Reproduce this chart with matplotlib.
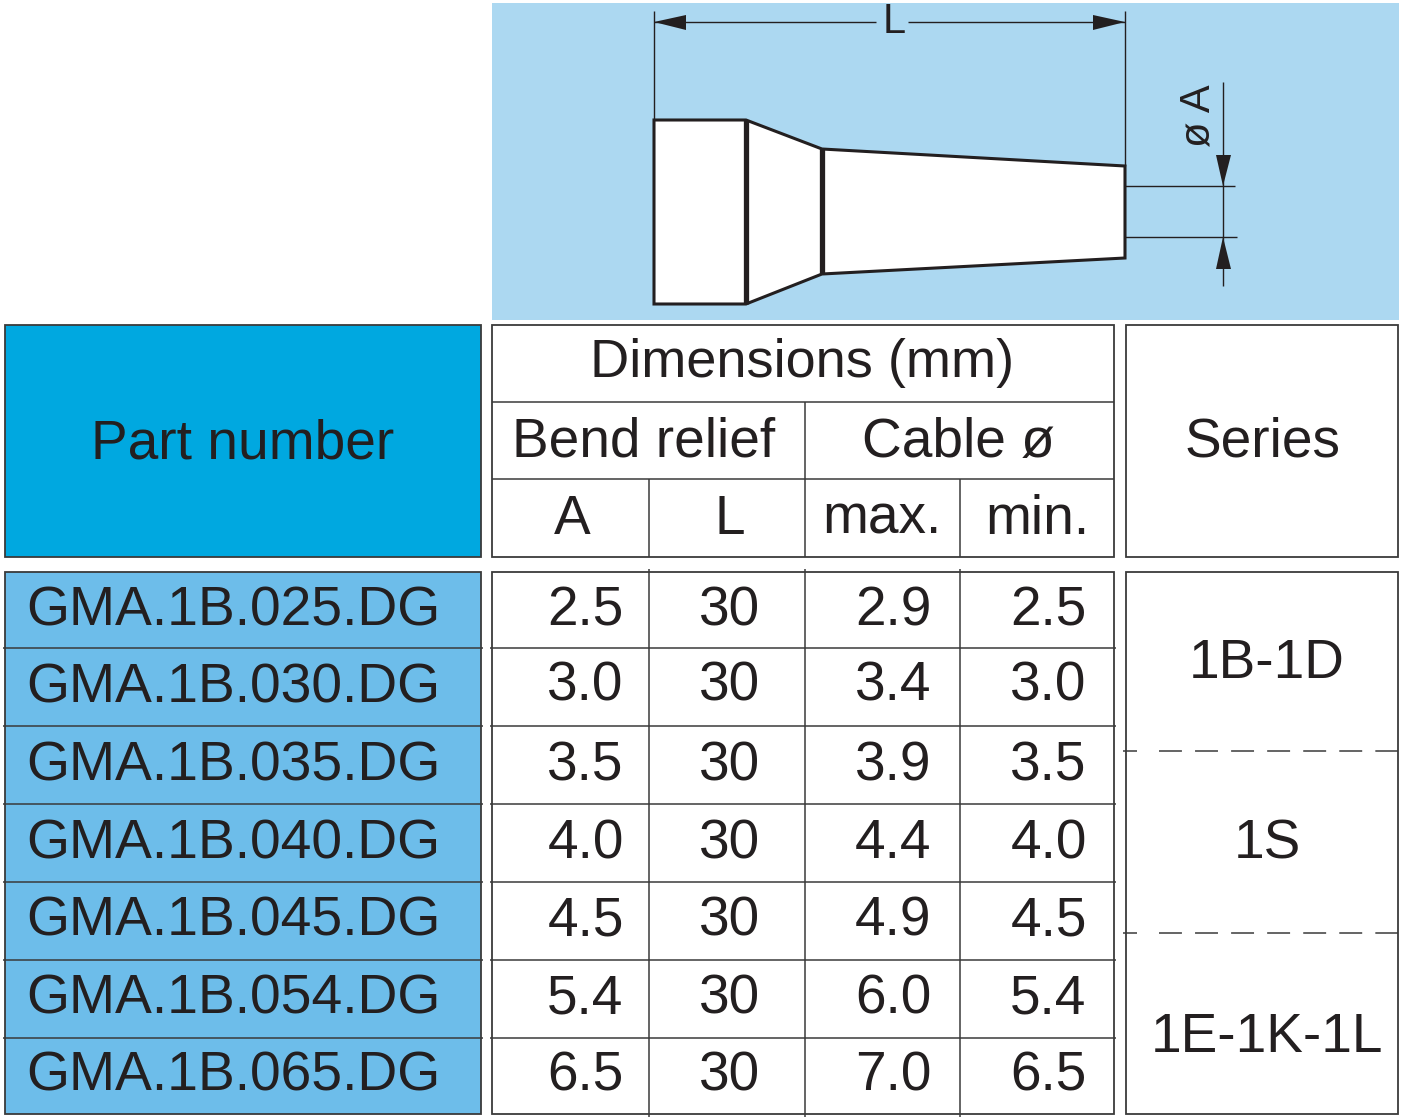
import matplotlib
matplotlib.use("Agg")
import matplotlib.pyplot as plt
from matplotlib.patches import Rectangle, Polygon

part_numbers = ["GMA.1B.025.DG", "GMA.1B.030.DG", "GMA.1B.035.DG", "GMA.1B.040.DG",
                "GMA.1B.045.DG", "GMA.1B.054.DG", "GMA.1B.065.DG"]
col_a = ["2.5", "3.0", "3.5", "4.0", "4.5", "5.4", "6.5"]
col_l = ["30"] * 7
col_max = ["2.9", "3.4", "3.9", "4.4", "4.9", "6.0", "7.0"]
col_min = ["2.5", "3.0", "3.5", "4.0", "4.5", "5.4", "6.5"]
series_labels = ["1B-1D", "1S", "1E-1K-1L"]
series_y = [660, 840, 1033]
label_y = [607, 684, 762, 840, 917, 995, 1072]
value_y = [607, 682, 762, 840, 917, 995, 1072]
row_lines = [648, 726, 804, 882, 960, 1038]

W, H = 1406, 1118
fig = plt.figure(figsize=(W / 100, H / 100), dpi=100)
ax = fig.add_axes([0, 0, 1, 1])
ax.set_xlim(0, W)
ax.set_ylim(H, 0)
ax.axis("off")
FONT = "Liberation Sans"
TC = "#231f20"
LC = "#3a3a3a"
FS = 39.6


def rect(x0, y0, x1, y1, fc="none", ec=LC, lw=1.3, z=1):
    ax.add_patch(Rectangle((x0, y0), x1 - x0, y1 - y0, fc=fc, ec=ec, lw=lw, zorder=z))


def line(xs, ys, lw=1.1, color=LC):
    ax.plot(xs, ys, color=color, lw=lw, solid_capstyle="butt", zorder=3)


def txt(x, y, s, ha="center", fs=FS, dy=4.5, **kw):
    ax.text(x, y + dy, s, ha=ha, va="center", fontsize=fs, family=FONT, color=TC, **kw)


# Drawing panel
rect(492, 3, 1399, 320, fc="#acd8f1", ec="none", z=0)
ax.add_patch(Polygon([(654, 120), (746, 120), (822, 149), (1125, 166), (1125, 258),
                      (822, 274), (746, 304), (654, 304)], closed=True,
                     fc="white", ec=TC, lw=2.2, zorder=2))
line([746, 746], [120, 304], lw=3.8, color=TC)
line([822, 822], [149, 274], lw=3.8, color=TC)
line([654, 654], [11, 120], lw=1, color=TC)
line([1125, 1125], [11, 166], lw=1, color=TC)
line([654, 876], [22, 22], lw=1, color=TC)
line([908, 1125], [22, 22], lw=1, color=TC)
line([1125, 1235], [186, 186], lw=1, color=TC)
line([1125, 1237], [237, 237], lw=1, color=TC)
line([1223, 1223], [82, 286], lw=1, color=TC)
ax.add_patch(Polygon([(654, 22), (686, 15), (686, 30)], fc=TC, ec="none", zorder=3))
ax.add_patch(Polygon([(1125, 22), (1093, 15), (1093, 30)], fc=TC, ec="none", zorder=3))
ax.add_patch(Polygon([(1223, 186), (1216, 155), (1231, 155)], fc=TC, ec="none", zorder=3))
ax.add_patch(Polygon([(1223, 237), (1216, 269), (1231, 269)], fc=TC, ec="none", zorder=3))
txt(894, 22, "L", fs=30, dy=0)
txt(1199, 116, "ø A", fs=30, dy=0, rotation=90)

# Header
rect(5, 325, 481, 557, fc="#00a8e0")
rect(492, 325, 1114, 557, fc="white")
rect(1126, 325, 1398, 557, fc="white")
line([492, 1114], [402, 402])
line([492, 1114], [479, 479])
line([805, 805], [402, 557])
line([649, 649], [479, 557])
line([960, 960], [479, 557])
txt(243, 440, "Part number")
txt(802, 359, "Dimensions (mm)", fs=39)
txt(644, 438, "Bend relief")
txt(958, 438, "Cable ø")
txt(572, 515, "A")
txt(730, 515, "L")
txt(882, 515, "max.")
txt(1037, 515, "min.")
txt(1263, 438, "Series")

# Body
rect(5, 572, 481, 1114, fc="#6dbdea")
rect(492, 572, 1114, 1114, fc="white")
rect(1126, 572, 1398, 1114, fc="white")
for y in row_lines:
    line([3, 483], [y, y])
    line([490, 1116], [y, y])
for x in (649, 805, 960):
    line([x, x], [569, 1117])
for y in (751, 933):
    line([1123, 1137], [y, y])
    ax.plot([1159, 1398], [y, y], color=LC, lw=1.1, linestyle=(0, (15.0, 8.6)),
            dash_capstyle="butt", zorder=3)

for i in range(len(part_numbers)):
    txt(26, label_y[i], part_numbers[i], ha="left", fs=39.8)
    txt(585.5, value_y[i], col_a[i])
    txt(730, value_y[i], col_l[i])
    txt(893.5, value_y[i], col_max[i])
    txt(1048.5, value_y[i], col_min[i])
for s, y in zip(series_labels, series_y):
    txt(1267, y, s)

fig.savefig("out.png", dpi=100)
